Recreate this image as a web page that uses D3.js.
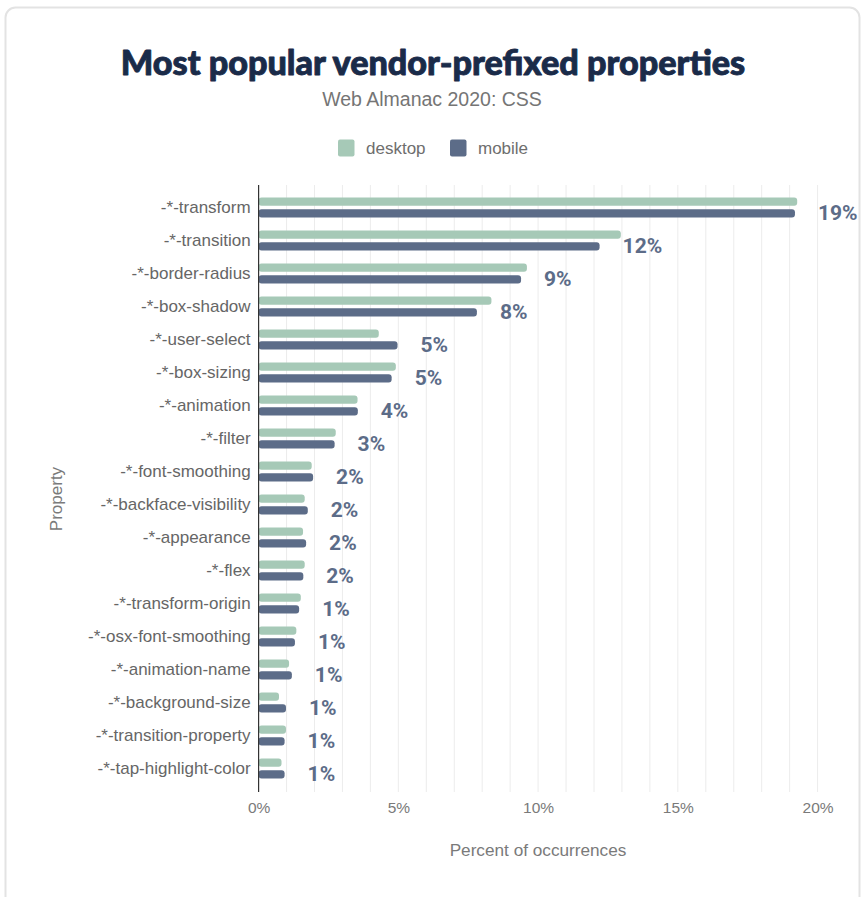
<!DOCTYPE html>
<html>
<head>
<meta charset="utf-8">
<script src="https://cdn.jsdelivr.net/npm/d3@7/dist/d3.min.js"></script>
<style>
  html, body { margin: 0; padding: 0; background: #fff; }
  svg { display: block; }
</style>
</head>
<body>
<svg id="chart" width="861" height="897"></svg>
<script>
// Vendor-prefixed property usage, share of pages (%)
const properties = [
  "-*-transform", "-*-transition", "-*-border-radius", "-*-box-shadow",
  "-*-user-select", "-*-box-sizing", "-*-animation", "-*-filter",
  "-*-font-smoothing", "-*-backface-visibility", "-*-appearance", "-*-flex",
  "-*-transform-origin", "-*-osx-font-smoothing", "-*-animation-name",
  "-*-background-size", "-*-transition-property", "-*-tap-highlight-color"
];
const desktop = [19.27, 12.96, 9.60, 8.33, 4.30, 4.91, 3.54, 2.76, 1.90, 1.65, 1.59, 1.65, 1.51, 1.35, 1.09, 0.73, 0.98, 0.82];
const mobile  = [19.19, 12.20, 9.39, 7.81, 4.97, 4.76, 3.55, 2.72, 1.95, 1.76, 1.70, 1.60, 1.45, 1.30, 1.19, 0.98, 0.93, 0.93];
const seriesNames = ["desktop", "mobile"];
const xTicks = [0, 5, 10, 15, 20];

const colors = { desktop: "#a6c9b7", mobile: "#5c6c88" };
const sans = "'Liberation Sans', Arial, sans-serif";

const rows = properties.map((p, i) => ({ property: p, desktop: desktop[i], mobile: mobile[i] }));

const svg = d3.select("#chart");

// Card frame
svg.append("rect")
  .attr("x", 5.5).attr("y", 7.5)
  .attr("width", 854).attr("height", 905)
  .attr("rx", 10).attr("ry", 10)
  .attr("fill", "#fff")
  .attr("stroke", "#e3e3e3").attr("stroke-width", 2);

// Title and subtitle
svg.append("text")
  .attr("x", 433).attr("y", 75)
  .attr("text-anchor", "middle")
  .attr("font-family", "Lato, 'Noto Sans', sans-serif")
  .attr("font-weight", 900)
  .attr("font-size", 34.2)
  .attr("fill", "#1a2b49")
  .attr("stroke", "#1a2b49").attr("stroke-width", 0.9)
  .attr("stroke-linejoin", "round")
  .text("Most popular vendor-prefixed properties");

svg.append("text")
  .attr("x", 432).attr("y", 106)
  .attr("text-anchor", "middle")
  .attr("font-family", sans)
  .attr("font-size", 19.5)
  .attr("fill", "#757575")
  .text("Web Almanac 2020: CSS");

// Legend
const legend = svg.append("g");
const legendItems = [
  { name: "desktop", x: 338 },
  { name: "mobile", x: 450 }
];
legendItems.forEach(d => {
  legend.append("rect")
    .attr("x", d.x).attr("y", 139.5)
    .attr("width", 16.5).attr("height", 17)
    .attr("rx", 2)
    .attr("fill", colors[d.name]);
  legend.append("text")
    .attr("x", d.x + 28).attr("y", 154)
    .attr("font-family", sans)
    .attr("font-size", 17)
    .attr("fill", "#6e6e6e")
    .text(d.name);
});

// Scales
const x = d3.scaleLinear().domain([0, 20]).range([258.6, 817.6]);
const y0 = d3.scaleBand().domain(properties).range([185, 791]).paddingInner(0).paddingOuter(0.18);
const y1 = d3.scaleBand().domain(seriesNames).range([0, y0.bandwidth()]).paddingInner(0.3).paddingOuter(0.56);

const plotTop = 185, plotBottom = 792;

// Vertical gridlines every 1%
svg.append("g")
  .selectAll("line")
  .data(d3.range(1, 21))
  .join("line")
  .attr("x1", d => x(d)).attr("x2", d => x(d))
  .attr("y1", plotTop).attr("y2", plotBottom)
  .attr("stroke", "#ececec").attr("stroke-width", 1);

// X axis tick labels
const xAxis = d3.axisBottom(x).tickValues(xTicks).tickFormat(d => d + "%").tickSize(0).tickPadding(0);
const gx = svg.append("g").attr("transform", `translate(0, ${plotBottom + 10})`).call(xAxis);
gx.select(".domain").remove();
gx.selectAll("text")
  .attr("dy", "0.71em")
  .attr("font-family", sans)
  .attr("font-size", 15.5)
  .attr("fill", "#7a7a7a");

// Y axis labels
const yAxis = d3.axisLeft(y0).tickSize(0).tickPadding(8);
const gy = svg.append("g").attr("transform", `translate(${x(0)}, 0)`).call(yAxis);
gy.select(".domain").remove();
gy.selectAll("text")
  .attr("font-family", sans)
  .attr("font-size", 17)
  .attr("fill", "#666");

// Axis titles
svg.append("text")
  .attr("transform", "translate(62, 499) rotate(-90)")
  .attr("text-anchor", "middle")
  .attr("font-family", sans)
  .attr("font-size", 17)
  .attr("fill", "#7a7a7a")
  .text("Property");

svg.append("text")
  .attr("x", 538).attr("y", 856)
  .attr("text-anchor", "middle")
  .attr("font-family", sans)
  .attr("font-size", 17.2)
  .attr("fill", "#7a7a7a")
  .text("Percent of occurrences");

// Bars
const groups = svg.append("g")
  .selectAll("g")
  .data(rows)
  .join("g")
  .attr("transform", d => `translate(0, ${y0(d.property)})`);

groups.selectAll("rect")
  .data(d => seriesNames.map(k => ({ key: k, value: d[k] })))
  .join("rect")
  .attr("x", x(0))
  .attr("y", d => y1(d.key))
  .attr("width", d => x(d.value) - x(0))
  .attr("height", y1.bandwidth())
  .attr("rx", 3).attr("ry", 3)
  .attr("fill", d => colors[d.key]);

// Value labels (mobile share, rounded)
groups.append("text")
  .attr("x", d => x(d.mobile) + 23)
  .attr("y", d => y1("mobile") + y1.bandwidth() / 2)
  .attr("dy", "0.3em")
  .attr("font-family", "Roboto, 'Liberation Sans', sans-serif")
  .attr("font-weight", 700)
  .attr("font-size", 21)
  .attr("fill", "#5c6c88")
  .text(d => Math.round(d.mobile) + "%");

// Left axis line
svg.append("line")
  .attr("x1", x(0)).attr("x2", x(0))
  .attr("y1", plotTop).attr("y2", plotBottom)
  .attr("stroke", "#333").attr("stroke-width", 1.2);
</script>
</body>
</html>
